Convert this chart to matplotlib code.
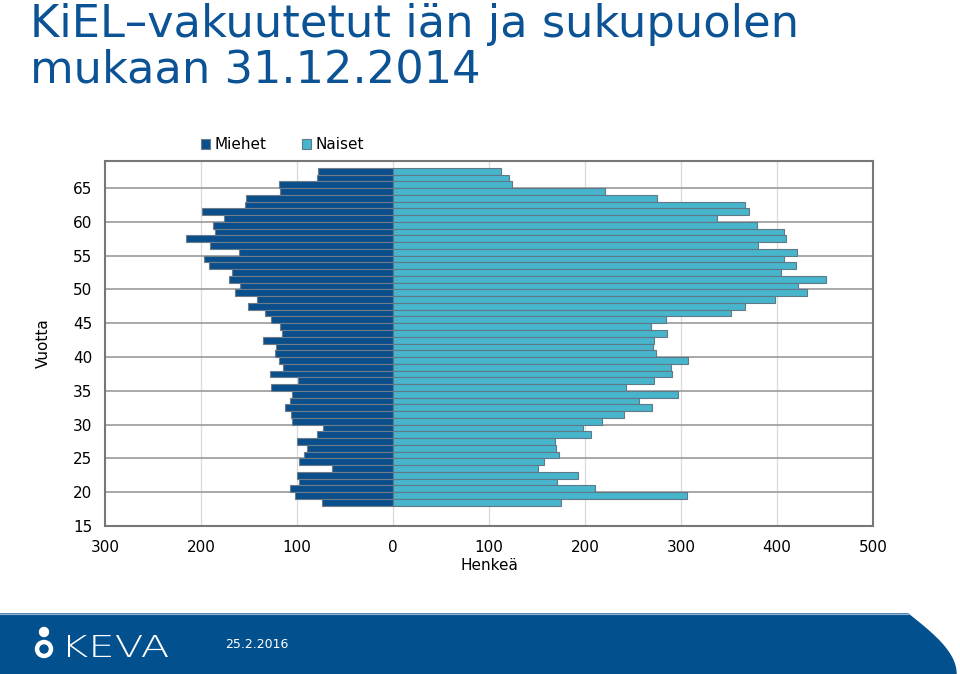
import numpy as np
import matplotlib
matplotlib.use("Agg")
import matplotlib.pyplot as plt
from matplotlib.patches import Circle, Polygon, PathPatch
from matplotlib.textpath import TextPath
from matplotlib.font_manager import FontProperties
from matplotlib.transforms import Affine2D

# Ages 67 down to 18 (one bar per year)
ages = list(range(67, 17, -1))

# Men (left side), persons
miehet = [78, 79, 119, 118, 153, 154, 199, 176, 187, 185, 216, 191, 160, 197, 192, 168, 171,
          159, 165, 142, 151, 133, 127, 118, 116, 135, 122, 123, 119, 115, 128, 99, 127,
          105, 107, 112, 106, 105, 73, 79, 100, 90, 93, 98, 64, 100, 98, 107, 102, 74]

# Women (right side), persons
naiset = [113, 121, 124, 221, 275, 367, 371, 337, 379, 407, 409, 380, 421, 407, 420, 404, 451,
          422, 431, 398, 367, 352, 284, 269, 285, 272, 271, 274, 307, 290, 291, 272, 243,
          297, 256, 270, 241, 218, 198, 206, 169, 170, 173, 157, 151, 193, 171, 210, 306, 175]

yticks = [15, 20, 25, 30, 35, 40, 45, 50, 55, 60, 65]
xticks = [-300, -200, -100, 0, 100, 200, 300, 400, 500]

c_men = "#0a4f8c"
c_women = "#47b5cc"
dark = "#0b5394"
band_c = "#03508f"

plt.rcParams['font.family'] = ['DejaVu Sans']

fig = plt.figure(figsize=(9.6, 6.74), dpi=100)
ax = fig.add_axes([105/960, 148/674, 768/960, 365/674])

y = np.array(ages) + 0.5
ax.barh(y, -np.array(miehet), height=1.0, color=c_men, edgecolor="#6e7c8a", linewidth=0.8,
        label="Miehet", zorder=3)
ax.barh(y, naiset, height=1.0, color=c_women, edgecolor="#5f7a86", linewidth=0.8,
        label="Naiset", zorder=3)

ax.set_xlim(-300, 500)
ax.set_ylim(15, 69)
ax.set_xticks(xticks)
ax.set_xticklabels([str(abs(v)) for v in xticks], fontsize=11)
ax.set_yticks(yticks)
ax.set_yticklabels([str(v) for v in yticks], fontsize=11)
ax.tick_params(length=0, pad=9)
ax.tick_params(axis='x', pad=10)

for v in xticks[1:-1]:
    ax.axvline(v, color="#d9d9d9", linewidth=0.9, zorder=1)
for v in yticks[1:]:
    ax.axhline(v, color="#9a9a9a", linewidth=1.2, zorder=1)
for s in ax.spines.values():
    s.set_color("#777777")
    s.set_linewidth(1.5)

ax.set_xlabel("Henkeä", fontsize=11, labelpad=2)
ax.set_ylabel("Vuotta", fontsize=11, labelpad=16)

ax.legend(loc="lower left", bbox_to_anchor=(0.115, 1.003), ncol=2, frameon=False, fontsize=11,
          handlelength=0.6, handleheight=0.6, handletextpad=0.3, columnspacing=2.3,
          borderaxespad=0.1)

# title
fig.text(30/960, 1 - 3/674, "KiEL–vakuutetut iän ja sukupuolen\nmukaan 31.12.2014",
         ha="left", va="top", fontsize=32.2, color=dark, linespacing=1.08)

# footer band
fax = fig.add_axes([0, 0, 1, 1], zorder=-1)
fax.set_xlim(0, 960)
fax.set_ylim(674, 0)
fax.axis("off")
xs = np.linspace(0, 1, 30)
curve = [(908 + 48 * np.sin(t * np.pi / 2), 614 + 60 * t) for t in xs]
band = Polygon([(0, 614)] + curve + [(0, 674)], closed=True, color=band_c)
fax.add_patch(band)
fax.plot([0, 908], [614, 614], color="#8fb3d3", linewidth=0.8)

# logo
fax.add_patch(Circle((44, 632), 4.5, color="white"))
fax.add_patch(Circle((44, 649), 8.5, color="white"))
fax.add_patch(Circle((44, 649), 4.0, color=band_c))
tp = TextPath((0, 0), "KEVA", size=1, prop=FontProperties(family="DejaVu Sans", weight="light"))
ext = tp.get_extents()
sx = 100 / ext.width
sy = 22 / ext.height
tr = Affine2D().translate(-ext.x0, -ext.y0).scale(sx, -sy).translate(68, 657)
fax.add_patch(PathPatch(tr.transform_path(tp), color="white", lw=0))
fax.text(225, 645, "25.2.2016", color="white", fontsize=9, va="center", ha="left")

fig.savefig("out.png", dpi=100)
